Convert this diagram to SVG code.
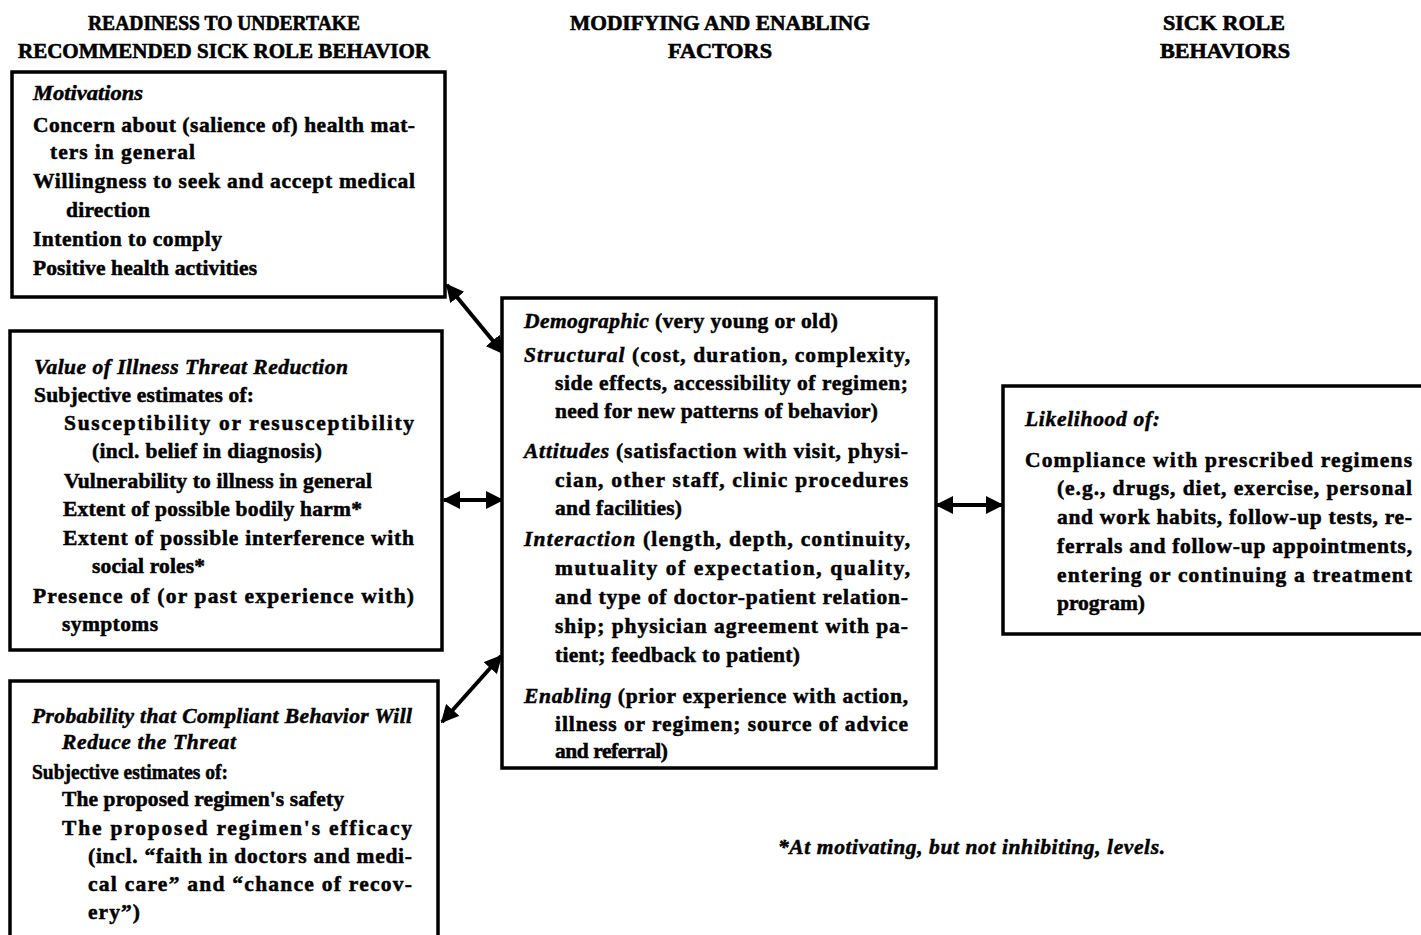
<svg xmlns="http://www.w3.org/2000/svg" width="1421" height="935" viewBox="0 0 1421 935">
<style>
text{font-family:"Liberation Serif","Times New Roman",serif;font-weight:bold;font-size:21.5px;fill:#000;stroke:#000;stroke-width:0.5}
.h{font-size:20px;stroke-width:0.6}
.i{font-style:italic}
.box{fill:#fff;stroke:#000;stroke-width:3.5}
.con{stroke:#000;stroke-width:4;fill:none;marker-start:url(#ah);marker-end:url(#ah)}
</style>
<defs>
<marker id="ah" viewBox="0 0 10 10" refX="9" refY="5" markerWidth="18" markerHeight="18" markerUnits="userSpaceOnUse" orient="auto-start-reverse">
<path d="M0,0 L10,5 L0,10 z" fill="#000"/>
</marker>
</defs>
<rect width="1421" height="935" fill="#fff"/>
<g id="headers">
<text class="h" x="88" y="30" textLength="272" lengthAdjust="spacingAndGlyphs">READINESS TO UNDERTAKE</text>
<text class="h" x="18" y="58" textLength="412" lengthAdjust="spacingAndGlyphs">RECOMMENDED SICK ROLE BEHAVIOR</text>
<text class="h" x="570" y="30" textLength="300" lengthAdjust="spacingAndGlyphs">MODIFYING AND ENABLING</text>
<text class="h" x="668" y="58" textLength="104" lengthAdjust="spacingAndGlyphs">FACTORS</text>
<text class="h" x="1163" y="30" textLength="122" lengthAdjust="spacingAndGlyphs">SICK ROLE</text>
<text class="h" x="1160" y="58" textLength="130" lengthAdjust="spacingAndGlyphs">BEHAVIORS</text>
</g>
<g id="connectors">
<line class="con" x1="447" y1="285" x2="503" y2="353"/>
<line class="con" x1="444" y1="500" x2="502" y2="500"/>
<line class="con" x1="442" y1="722" x2="501" y2="656"/>
<line class="con" x1="937" y1="505" x2="1002" y2="505"/>
</g>
<g id="motivations">
<rect class="box" x="12" y="72" width="433" height="225"/>
<text x="33" y="100" textLength="110" lengthAdjust="spacingAndGlyphs" class="i">Motivations</text>
<text x="33" y="132" textLength="382" lengthAdjust="spacing">Concern about (salience of) health mat-</text>
<text x="50" y="159" textLength="145" lengthAdjust="spacing">ters in general</text>
<text x="33" y="188" textLength="382" lengthAdjust="spacing">Willingness to seek and accept medical</text>
<text x="66" y="217" textLength="84" lengthAdjust="spacing">direction</text>
<text x="33" y="246" textLength="189" lengthAdjust="spacing">Intention to comply</text>
<text x="33" y="275" textLength="224" lengthAdjust="spacing">Positive health activities</text>
</g>
<g id="value-threat-reduction">
<rect class="box" x="10" y="331" width="432" height="319"/>
<text x="34" y="374" textLength="314" lengthAdjust="spacing" class="i">Value of Illness Threat Reduction</text>
<text x="34" y="402" textLength="220" lengthAdjust="spacing">Subjective estimates of:</text>
<text x="64" y="430" textLength="350" lengthAdjust="spacing">Susceptibility or resusceptibility</text>
<text x="92" y="458" textLength="230" lengthAdjust="spacing">(incl. belief in diagnosis)</text>
<text x="64" y="488" textLength="308" lengthAdjust="spacing">Vulnerability to illness in general</text>
<text x="63" y="516" textLength="299" lengthAdjust="spacing">Extent of possible bodily harm*</text>
<text x="63" y="545" textLength="351" lengthAdjust="spacing">Extent of possible interference with</text>
<text x="92" y="573" textLength="113" lengthAdjust="spacing">social roles*</text>
<text x="33" y="603" textLength="381" lengthAdjust="spacing">Presence of (or past experience with)</text>
<text x="62" y="631" textLength="96" lengthAdjust="spacing">symptoms</text>
</g>
<g id="probability">
<rect class="box" x="10" y="681" width="428" height="270"/>
<text x="32" y="723" textLength="380" lengthAdjust="spacing" class="i">Probability that Compliant Behavior Will</text>
<text x="62" y="749" textLength="174" lengthAdjust="spacing" class="i">Reduce the Threat</text>
<text x="32" y="779" textLength="196" lengthAdjust="spacingAndGlyphs">Subjective estimates of:</text>
<text x="62" y="806" textLength="282" lengthAdjust="spacing">The proposed regimen's safety</text>
<text x="62" y="835" textLength="350" lengthAdjust="spacing">The proposed regimen's efficacy</text>
<text x="88" y="863" textLength="324" lengthAdjust="spacing">(incl. “faith in doctors and medi-</text>
<text x="88" y="891" textLength="324" lengthAdjust="spacing">cal care” and “chance of recov-</text>
<text x="88" y="919" textLength="52" lengthAdjust="spacing">ery”)</text>
</g>
<g id="modifying-factors">
<rect class="box" x="502" y="298" width="434" height="470"/>
<text x="524" y="328" textLength="314" lengthAdjust="spacing"><tspan class="i">Demographic</tspan> (very young or old)</text>
<text x="524" y="362" textLength="386" lengthAdjust="spacing"><tspan class="i">Structural</tspan> (cost, duration, complexity,</text>
<text x="555" y="390" textLength="353" lengthAdjust="spacing">side effects, accessibility of regimen;</text>
<text x="555" y="418" textLength="323" lengthAdjust="spacing">need for new patterns of behavior)</text>
<text x="524" y="458" textLength="384" lengthAdjust="spacing"><tspan class="i">Attitudes</tspan> (satisfaction with visit, physi-</text>
<text x="555" y="487" textLength="353" lengthAdjust="spacing">cian, other staff, clinic procedures</text>
<text x="555" y="515" textLength="127" lengthAdjust="spacing">and facilities)</text>
<text x="524" y="546" textLength="386" lengthAdjust="spacing"><tspan class="i">Interaction</tspan> (length, depth, continuity,</text>
<text x="555" y="575" textLength="355" lengthAdjust="spacing">mutuality of expectation, quality,</text>
<text x="555" y="604" textLength="353" lengthAdjust="spacing">and type of doctor-patient relation-</text>
<text x="555" y="633" textLength="353" lengthAdjust="spacing">ship; physician agreement with pa-</text>
<text x="555" y="662" textLength="245" lengthAdjust="spacing">tient; feedback to patient)</text>
<text x="524" y="703" textLength="384" lengthAdjust="spacing"><tspan class="i">Enabling</tspan> (prior experience with action,</text>
<text x="555" y="731" textLength="353" lengthAdjust="spacing">illness or regimen; source of advice</text>
<text x="555" y="758" textLength="113" lengthAdjust="spacing">and referral)</text>
</g>
<g id="sick-role-behaviors">
<rect class="box" x="1003" y="386" width="440" height="248"/>
<text x="1025" y="426" textLength="135" lengthAdjust="spacing" class="i">Likelihood of:</text>
<text x="1025" y="467" textLength="387" lengthAdjust="spacing">Compliance with prescribed regimens</text>
<text x="1057" y="495" textLength="355" lengthAdjust="spacing">(e.g., drugs, diet, exercise, personal</text>
<text x="1057" y="524" textLength="355" lengthAdjust="spacing">and work habits, follow-up tests, re-</text>
<text x="1057" y="553" textLength="355" lengthAdjust="spacing">ferrals and follow-up appointments,</text>
<text x="1057" y="582" textLength="355" lengthAdjust="spacing">entering or continuing a treatment</text>
<text x="1057" y="610" textLength="88" lengthAdjust="spacing">program)</text>
</g>
<g id="footnote">
<text x="778" y="854" textLength="387" lengthAdjust="spacing" class="i">*At motivating, but not inhibiting, levels.</text>
</g>
</svg>
